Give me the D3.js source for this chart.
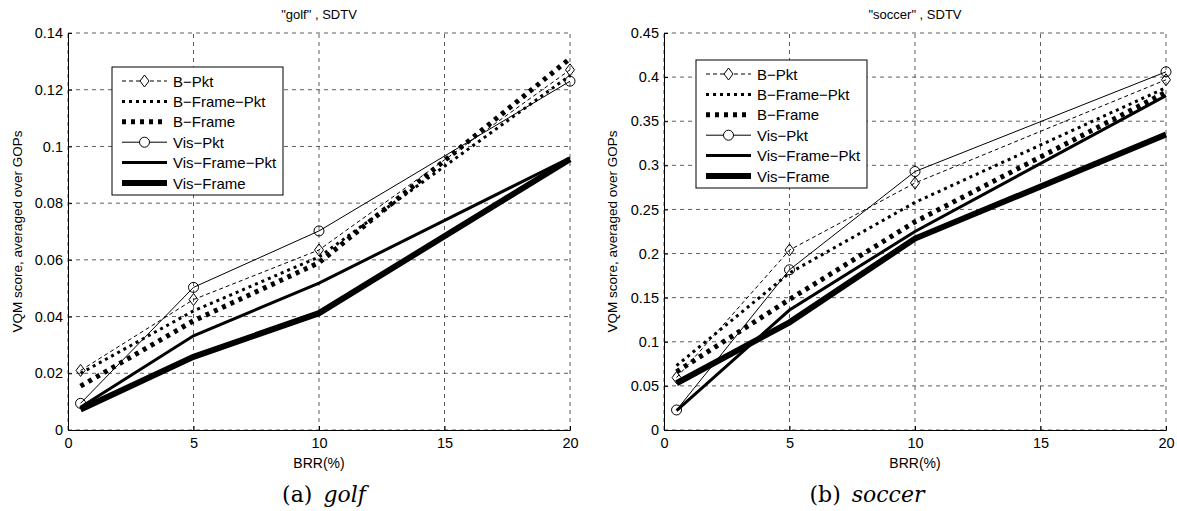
<!DOCTYPE html>
<html>
<head>
<meta charset="utf-8">
<script src="https://cdn.jsdelivr.net/npm/d3@7"></script>
<style>
    body { margin: 0; background: #fff; }
    svg text { font-family: "Liberation Sans", Arial, sans-serif; fill: #000; }
</style>
</head>
<body>
<div id="chart"></div>
<script>
// BRR values (x axis) shared by both panels
const brr = [0.5, 5, 10, 20];
const xTicks = [0, 5, 10, 15, 20];

const seriesNames = ["B−Pkt", "B−Frame−Pkt", "B−Frame", "Vis−Pkt", "Vis−Frame−Pkt", "Vis−Frame"];

// "golf" panel values
const golfBPkt = [0.021, 0.046, 0.0635, 0.127];
const golfBFramePkt = [0.020, 0.042, 0.061, 0.125];
const golfBFrame = [0.0155, 0.0385, 0.059, 0.131];
const golfVisPkt = [0.0094, 0.0503, 0.0702, 0.123];
const golfVisFramePkt = [0.008, 0.0332, 0.0518, 0.096];
const golfVisFrame = [0.0072, 0.0258, 0.0412, 0.0955];
const golfYTicks = [0, 0.02, 0.04, 0.06, 0.08, 0.1, 0.12, 0.14];

// "soccer" panel values
const soccerBPkt = [0.0594, 0.204, 0.280, 0.397];
const soccerBFramePkt = [0.073, 0.178, 0.258, 0.388];
const soccerBFrame = [0.066, 0.148, 0.236, 0.383];
const soccerVisPkt = [0.0227, 0.1816, 0.293, 0.406];
const soccerVisFramePkt = [0.022, 0.136, 0.225, 0.379];
const soccerVisFrame = [0.053, 0.122, 0.217, 0.335];
const soccerYTicks = [0, 0.05, 0.1, 0.15, 0.2, 0.25, 0.3, 0.35, 0.4, 0.45];

// line style per series (same order as seriesNames)
const styles = [
    { width: 1, dash: "4,3", marker: "diamond" },
    { width: 3, dash: "3,4", marker: null },
    { width: 5, dash: "4,5", marker: null },
    { width: 1, dash: null, marker: "circle" },
    { width: 3, dash: null, marker: null },
    { width: 6, dash: null, marker: null }
];

const svg = d3.select("#chart").append("svg")
    .attr("width", 1177)
    .attr("height", 511);

class LinePanel {

    constructor(svg, opts) {
        this.svg = svg;
        this.opts = opts;
        this.initVis();
    }

    initVis() {
        let vis = this;
        let o = vis.opts;

        vis.x = d3.scaleLinear().domain([0, 20]).range([o.left, o.right]);
        vis.y = d3.scaleLinear().domain([0, o.yMax]).range([430, 33]);

        vis.g = vis.svg.append("g");

        // grid (dashed)
        vis.g.selectAll(".vgrid").data(xTicks).enter().append("line")
            .attr("x1", d => vis.x(d)).attr("x2", d => vis.x(d))
            .attr("y1", vis.y(0)).attr("y2", vis.y(o.yMax))
            .attr("stroke", "#333").attr("stroke-width", 0.8)
            .attr("stroke-dasharray", "4,4");

        vis.g.selectAll(".hgrid").data(o.yTicks).enter().append("line")
            .attr("x1", vis.x(0)).attr("x2", vis.x(20))
            .attr("y1", d => vis.y(d)).attr("y2", d => vis.y(d))
            .attr("stroke", "#333").attr("stroke-width", 0.8)
            .attr("stroke-dasharray", "4,4");

        // axes
        let xAxis = d3.axisBottom(vis.x).tickValues(xTicks).tickSize(-4).tickPadding(8)
            .tickFormat(d3.format("d"));
        let yAxis = d3.axisLeft(vis.y).tickValues(o.yTicks).tickSize(-4).tickPadding(5)
            .tickFormat(d => d === 0 ? "0" : d3.format("")(+d.toFixed(3)));

        vis.g.append("g")
            .attr("transform", "translate(0," + vis.y(0) + ")")
            .call(xAxis)
            .call(g => g.select(".domain").attr("stroke-width", 1));
        vis.g.append("g")
            .attr("transform", "translate(" + vis.x(0) + ",0)")
            .call(yAxis)
            .call(g => g.select(".domain").attr("stroke-width", 1));
        vis.g.selectAll(".tick text").style("font-size", "14.5px").style("font-family", "Liberation Sans, Arial, sans-serif");

        // lines
        let line = d3.line()
            .x((d, i) => vis.x(brr[i]))
            .y(d => vis.y(d));

        o.series.forEach((vals, k) => {
            let s = styles[k];
            vis.g.append("path")
                .datum(vals)
                .attr("d", line)
                .attr("fill", "none")
                .attr("stroke", "#000")
                .attr("stroke-width", s.width)
                .attr("stroke-dasharray", s.dash)
                .attr("stroke-linejoin", "miter");

            if (s.marker) {
                vis.g.selectAll(".m" + k).data(vals).enter().append("path")
                    .attr("transform", (d, i) => "translate(" + vis.x(brr[i]) + "," + vis.y(d) + ")")
                    .attr("d", vis.markerPath(s.marker))
                    .attr("fill", "none")
                    .attr("stroke", "#000")
                    .attr("stroke-width", 1);
            }
        });

        // title
        vis.g.append("text")
            .attr("x", (o.left + o.right) / 2)
            .attr("y", 19)
            .attr("text-anchor", "middle")
            .style("font-size", "13px")
            .text(o.title);

        // axis labels
        vis.g.append("text")
            .attr("x", (o.left + o.right) / 2)
            .attr("y", 468)
            .attr("text-anchor", "middle")
            .style("font-size", "14px")
            .text("BRR(%)");

        vis.g.append("text")
            .attr("transform", "translate(" + o.ylabelX + "," + (vis.y(0) + vis.y(o.yMax)) / 2 + ") rotate(-90)")
            .attr("text-anchor", "middle")
            .style("font-size", "13.5px")
            .text("VQM score, averaged over GOPs");

        // caption
        let cap = vis.g.append("text")
            .attr("x", o.captionX)
            .attr("y", 502)
            .attr("text-anchor", "middle")
            .style("font-size", "22px")
            .style("font-family", "DejaVu Serif, Liberation Serif, serif");
        cap.append("tspan").text(o.caption[0]);
        cap.append("tspan").attr("dx", 11).style("font-style", "italic").text(o.caption[1]);

        vis.drawLegend();
    }

    markerPath(kind) {
        if (kind === "circle") {
            return d3.symbol().type(d3.symbolCircle).size(Math.PI * 25)();
        }
        return "M0,-6L4.5,0L0,6L-4.5,0Z";
    }

    drawLegend() {
        let vis = this;
        let o = vis.opts;
        let lg = o.legend;

        let leg = vis.g.append("g").attr("transform", "translate(" + lg.x + "," + lg.y + ")");
        leg.append("rect")
            .attr("width", lg.w).attr("height", lg.h)
            .attr("fill", "#fff").attr("stroke", "#000").attr("stroke-width", 1);

        seriesNames.forEach((name, k) => {
            let s = styles[k];
            let cy = 14 + k * 20.4;
            leg.append("line")
                .attr("x1", 10).attr("x2", 55)
                .attr("y1", cy).attr("y2", cy)
                .attr("stroke", "#000")
                .attr("stroke-width", s.width)
                .attr("stroke-dasharray", s.dash);
            if (s.marker) {
                leg.append("path")
                    .attr("transform", "translate(32.5," + cy + ")")
                    .attr("d", vis.markerPath(s.marker))
                    .attr("fill", "#fff")
                    .attr("stroke", "#000");
            }
            leg.append("text")
                .attr("x", 61).attr("y", cy + 5.5)
                .style("font-size", "15px")
                .text(name);
        });
    }
}

new LinePanel(svg, {
    left: 68, right: 570, yMax: 0.14, yTicks: golfYTicks,
    title: "\"golf\" , SDTV",
    series: [golfBPkt, golfBFramePkt, golfBFrame, golfVisPkt, golfVisFramePkt, golfVisFrame],
    ylabelX: 22, captionX: 324, caption: ["(a)", "golf"],
    legend: { x: 112, y: 67, w: 171, h: 128 }
});

new LinePanel(svg, {
    left: 664, right: 1166, yMax: 0.45, yTicks: soccerYTicks,
    title: "\"soccer\" , SDTV",
    series: [soccerBPkt, soccerBFramePkt, soccerBFrame, soccerVisPkt, soccerVisFramePkt, soccerVisFrame],
    ylabelX: 617, captionX: 867, caption: ["(b)", "soccer"],
    legend: { x: 696, y: 60, w: 171, h: 128 }
});
</script>
</body>
</html>
